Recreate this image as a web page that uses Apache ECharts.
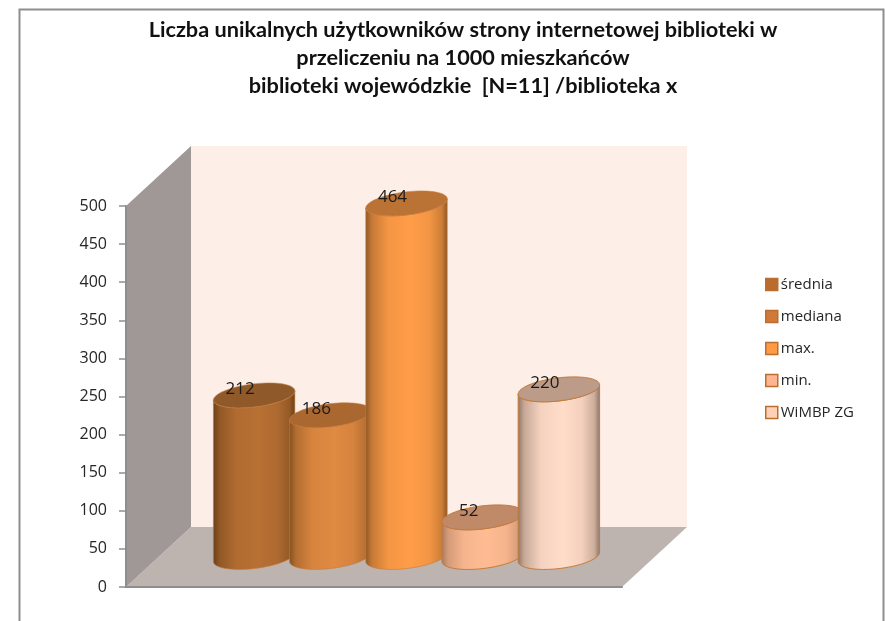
<!DOCTYPE html>
<html><head><meta charset="utf-8">
<style>html,body{margin:0;padding:0;background:#fff}#c{width:885px;height:621px}</style>
<script src="https://cdn.jsdelivr.net/npm/echarts@6/dist/echarts.min.js"></script>
</head><body><div id="c"></div>
<script>
const categories = [''];
const seriesNames = ['średnia', 'mediana', 'max.', 'min.', 'WiMBP ZG'];
const seriesValues = [212, 186, 464, 52, 220];
const titleLines = [
  'Liczba unikalnych użytkowników strony internetowej biblioteki w',
  'przeliczeniu na 1000 mieszkańców',
  'biblioteki wojewódzkie  [N=11] /biblioteka x'
];
const sideCenter = ['#b87033', '#e08a42', '#ff9d48', '#ffbc93', '#ffddc9'];
const sideEdge   = ['#6a4018', '#84501f', '#8f5723', '#a8795c', '#8f7364'];
const topColors  = ['#90592a', '#aa672f', '#bb7235', '#c08a68', '#bd9b89'];
const legendFill = ['#b96c30', '#cf7a38', '#ff9a45', '#ffb592', '#ffd0b8'];

const DEPTH_X = 65, DEPTH_Y = -60, FONT = 'Open Sans', TITLE_FONT = 'Lato';
const RX = 41, RY = 11.5, TILT = -7 * Math.PI / 180, STEP = 0.1536;

function mix(a, b, t) {
  const p = (h, s) => parseInt(h.slice(s, s + 2), 16);
  const c = [1, 3, 5].map(s => Math.round(p(a, s) + (p(b, s) - p(a, s)) * t));
  return 'rgb(' + c.join(',') + ')';
}
function ellipseAt(cx, cy, t) {
  return [cx + RX * Math.cos(t) * Math.cos(TILT) - RY * Math.sin(t) * Math.sin(TILT),
          cy + RX * Math.cos(t) * Math.sin(TILT) + RY * Math.sin(t) * Math.cos(TILT)];
}
function renderWalls(params, api) {
  const g = params.coordSys;
  const L = g.x, R = g.x + g.width, T = g.y, B = g.y + g.height;
  const d = (p) => [p[0] + DEPTH_X, p[1] + DEPTH_Y];
  return { type: 'group', children: [
    { type: 'polygon', shape: { points: [d([L, T]), d([R, T]), d([R, B]), d([L, B])] }, style: { fill: '#fdeee7' } },
    { type: 'polygon', shape: { points: [[L, B], [R, B], d([R, B]), d([L, B])] }, style: { fill: '#bdb4b0' } },
    { type: 'polygon', shape: { points: [[L, T], d([L, T]), d([L, B]), [L, B]] }, style: { fill: '#a09896' } }
  ]};
}
function makeCylinder(i) {
  return function (params, api) {
    const v = api.value(1);
    const base = api.coord([api.value(0), 0]);
    const band = api.size([1, 0])[0];
    const top = api.coord([api.value(0), v]);
    const cx = base[0] + DEPTH_X / 2 + (i - 2) * STEP * band;
    const by = base[1] + DEPTH_Y / 2;
    const ty = top[1] + DEPTH_Y / 2;
    const t0 = Math.atan2(-RY * Math.sin(TILT), RX * Math.cos(TILT));
    const N = 40, body = [], cap = [];
    for (let k = 0; k <= N; k++) body.push(ellipseAt(cx, by, t0 + Math.PI * k / N));
    for (let k = 0; k <= N; k++) body.push(ellipseAt(cx, ty, t0 + Math.PI - Math.PI * k / N));
    for (let k = 0; k < 2 * N; k++) cap.push(ellipseAt(cx, ty, Math.PI * k / N));
    const edge = '#c47b3c', e = sideEdge[i], c = sideCenter[i];
    return { type: 'group', children: [
      { type: 'polygon', shape: { points: body }, style: {
          fill: { type: 'linear', x: 0, y: 0, x2: 1, y2: 0, colorStops: [
            { offset: 0, color: e }, { offset: 0.08, color: mix(e, c, 0.5) }, { offset: 0.28, color: mix(e, c, 0.9) },
            { offset: 0.55, color: c }, { offset: 0.78, color: mix(e, c, 0.88) },
            { offset: 0.93, color: mix(e, c, 0.55) }, { offset: 1, color: e } ] },
          stroke: edge, lineWidth: i > 2 ? 1 : 0.6 } },
      { type: 'polygon', shape: { points: cap }, style: { fill: topColors[i], stroke: edge, lineWidth: i > 2 ? 1 : 0.6 } },
      { type: 'text', style: { x: cx - 14, y: ty - 6, text: String(v), fill: '#1a1a1a',
          font: '17px "' + FONT + '"', align: 'center', verticalAlign: 'middle' } }
    ]};
  };
}
const chart = echarts.init(document.getElementById('c'), null, { renderer: 'canvas' });
chart.setOption({
  animation: false,
  backgroundColor: '#fff',
  title: { text: titleLines.join('\n'), left: 458, top: 11, textAlign: 'center',
    textStyle: { fontFamily: TITLE_FONT, fontWeight: 'bold', fontSize: 21.7, lineHeight: 28, color: '#111' } },
  grid: { left: 126, top: 206, width: 496, height: 381, containLabel: false },
  xAxis: { type: 'category', data: categories, z: 3,
    axisLine: { lineStyle: { color: '#8e8e8e', width: 2 } }, axisTick: { show: false }, axisLabel: { show: false } },
  yAxis: { type: 'value', min: 0, max: 500, interval: 50, z: 3,
    axisLine: { show: true, lineStyle: { color: '#8e8e8e', width: 2 } },
    axisTick: { show: true, length: 7, lineStyle: { color: '#8e8e8e', width: 1.5 } },
    axisLabel: { fontFamily: FONT, fontSize: 16, color: '#262626', margin: 19 },
    splitLine: { show: false } },
  legend: { left: 765, top: 275, padding: 0, orient: 'vertical', itemWidth: 12, itemHeight: 12, itemGap: 13,
    icon: 'rect', textStyle: { fontFamily: FONT, fontSize: 15, color: '#262626', padding: [0, 0, 0, -2], height: 19, lineHeight: 19 },
    data: seriesNames.map((n, i) => ({ name: n, itemStyle: { color: legendFill[i], borderColor: '#bb6e2f', borderWidth: 1.5 } })) },
  graphic: [{ type: 'polyline', silent: true, z: 10,
    shape: { points: [[19.5, 640], [19.5, 9.5], [883.5, 9.5], [883.5, 640]] },
    style: { stroke: '#8e8e8e', lineWidth: 2, fill: null } }],
  series: [
    { type: 'custom', name: 'walls', z: 1, silent: true, renderItem: renderWalls, data: [[0, 0]], encode: { x: 0, y: 1 } }
  ].concat(seriesNames.map((n, i) => ({
    type: 'custom', name: n, z: 2 + i, renderItem: makeCylinder(i),
    itemStyle: { color: legendFill[i] },
    data: [[0, seriesValues[i]]], encode: { x: 0, y: 1 }
  })))
});
</script></body></html>
